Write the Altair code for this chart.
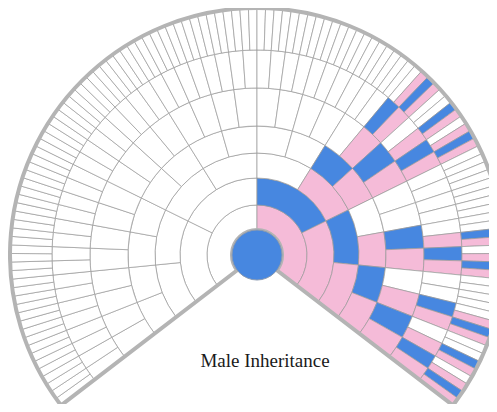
import math
import altair as alt
import pandas as pd

# Colour code of each segment on the mother's (right) half, ring by ring,
# read clockwise from the top. W = no X contribution, B = male, P = female.
RIGHT_HALF = [
    "P",
    "BP",
    "WPBP",
    "WWBPWPBP",
    "WWWWWPBPWWBPWPBP",
    "WWWWWWWWWWBPWPBPWWWWWPBPWWBPWPBP",
    "WWWWWWWWWWWWWWWWWWWW" "WPBPWWBPWPBP" "WWWWWWWWWW" "BPWPBP" "WWWW" "WPBP" "WWBPWPBP",
]
CODES = ["W", "P", "B"]
COLOURS = ["#ffffff", "#f5bbd8", "#4787e0"]
RING_EDGES = [25, 50, 77, 102, 129, 167, 205, 247]
TITLE = "Male Inheritance"

HALF_SPAN = math.radians(127.5)

rows = []
for k, right in enumerate(RIGHT_HALF, start=1):
    n = 2 ** k
    half = n // 2
    codes = ["W"] * half + list(right)
    for i, c in enumerate(codes):
        rows.append({"ring": k, "r0": k - 1, "r1": k, "t0": i / n, "t1": (i + 1) / n, "code": c})
df = pd.DataFrame(rows)

CX, CY = 249, 247

theta_scale = alt.Scale(domain=[0, 1], range=[-HALF_SPAN, HALF_SPAN])
radius_scale = alt.Scale(type="linear", domain=list(range(len(RING_EDGES))), range=RING_EDGES,
                         zero=False, nice=False)

segments = alt.Chart(df).mark_arc(stroke="#9a9a9a", strokeWidth=0.7).encode(
    x=alt.value(CX), y=alt.value(CY),
    theta=alt.Theta("t0:Q", scale=theta_scale),
    theta2="t1:Q",
    radius=alt.Radius("r1:Q", scale=radius_scale),
    radius2="r0:Q",
    fill=alt.Fill("code:N", scale=alt.Scale(domain=CODES, range=COLOURS), legend=None),
)

outline_df = pd.DataFrame({"t0": [0.0], "t1": [1.0], "r0": [0], "r1": [len(RING_EDGES) - 1]})
outline = alt.Chart(outline_df).mark_arc(fillOpacity=0, stroke="#b4b4b4", strokeWidth=4).encode(
    x=alt.value(CX), y=alt.value(CY),
    theta=alt.Theta("t0:Q", scale=theta_scale),
    theta2="t1:Q",
    radius=alt.Radius("r1:Q", scale=radius_scale),
    radius2="r0:Q",
)

centre = alt.Chart(pd.DataFrame({"who": ["self"]})).mark_arc(
    fill="#4787e0", stroke="#8a9ab0", strokeWidth=1
).encode(
    x=alt.value(CX), y=alt.value(CY),
    theta=alt.value(0), theta2=alt.value(2 * math.pi),
    radius=alt.value(25),
)

title = alt.Chart(pd.DataFrame({"label": [TITLE]})).mark_text(
    font="Liberation Serif", fontSize=19, color="#1a1a1a", baseline="alphabetic"
).encode(
    x=alt.value(257), y=alt.value(359), text="label:N"
)

chart = alt.layer(segments, outline, centre, title).properties(
    width=481, height=396, padding=0, autosize=alt.AutoSizeParams(type="none")
).configure_view(stroke=None)

chart.save("out.html", embed_options={"renderer": "svg", "actions": False})
